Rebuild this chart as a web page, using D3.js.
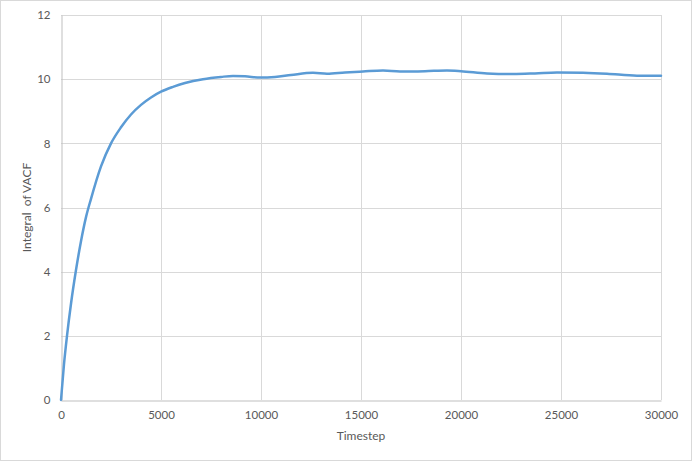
<!DOCTYPE html>
<html><head><meta charset="utf-8">
<script src="https://cdn.jsdelivr.net/npm/d3@7"></script>
<style>html,body{margin:0;padding:0;background:#fff}svg{display:block}</style>
</head><body>
<script>
const timesteps = [0,150,300,500,750,1000,1250,1500,2000,2500,3000,3500,4000,4500,5000,5600,6200,7100,8000,8600,9200,9950,10700,11500,12600,13300,14200,15100,16100,16950,18200,19300,20000,21300,22600,23700,24800,26100,27300,28800,30000];
const vacfIntegral = [0,1.12,2.0,3.0,4.05,4.95,5.7,6.27,7.28,8.0,8.5,8.9,9.2,9.43,9.61,9.76,9.88,10.0,10.07,10.10,10.09,10.05,10.07,10.13,10.2,10.17,10.21,10.24,10.27,10.24,10.25,10.27,10.25,10.18,10.16,10.18,10.21,10.20,10.17,10.11,10.11];
const xTicks = [0,5000,10000,15000,20000,25000,30000];
const yTicks = [0,2,4,6,8,10,12];
const xTitle = "Timestep";
const yTitle = "Integral  of VACF";

const W = 692, H = 461;
const m = {left:61, right:31, top:15, bottom:61};
const svg = d3.select("body").append("svg").attr("width",W).attr("height",H);
svg.append("rect").attr("x",0.5).attr("y",0.5).attr("width",W-1).attr("height",H-1)
  .attr("fill","#fff").attr("stroke","#d9d9d9");

const x = d3.scaleLinear().domain([0,30000]).range([m.left, W-m.right]);
const y = d3.scaleLinear().domain([0,12]).range([H-m.bottom, m.top]);
const font = "Lato, 'Open Sans', sans-serif";

// gridlines
svg.append("g").selectAll("line.h").data(yTicks.filter(d=>d>0)).join("line")
  .attr("x1",x(0)).attr("x2",x(30000)).attr("y1",d=>Math.round(y(d))+0.5).attr("y2",d=>Math.round(y(d))+0.5)
  .attr("stroke","#d9d9d9");
svg.append("g").selectAll("line.v").data(xTicks.filter(d=>d>0)).join("line")
  .attr("y1",y(0)).attr("y2",y(12)).attr("x1",d=>Math.round(x(d))+0.5).attr("x2",d=>Math.round(x(d))+0.5)
  .attr("stroke","#d9d9d9");

// axes
const xAxis = d3.axisBottom(x).tickValues(xTicks).tickSize(0).tickPadding(10).tickFormat(d3.format("d"));
const yAxis = d3.axisLeft(y).tickValues(yTicks).tickSize(0).tickPadding(11).tickFormat(d3.format("d"));
const gx = svg.append("g").attr("transform",`translate(0,${Math.round(y(0))+0.5})`).call(xAxis);
const gy = svg.append("g").attr("transform",`translate(${Math.round(x(0))+0.5},0)`).call(yAxis);
[gx,gy].forEach(g=>{
  g.select(".domain").attr("stroke","#bfbfbf");
  g.selectAll("text").attr("fill","#595959").style("font-family",font).style("font-size","11.5px");
});

// line
const line = d3.line().x((d,i)=>x(timesteps[i])).y(d=>y(d)).curve(d3.curveMonotoneX);
svg.append("path").datum(vacfIntegral).attr("d",line).attr("fill","none")
  .attr("stroke","#5b9bd5").attr("stroke-width",2.5).attr("stroke-linejoin","round").attr("stroke-linecap","round");

// titles
svg.append("text").attr("x",(x(0)+x(30000))/2).attr("y",440).attr("text-anchor","middle")
  .attr("fill","#595959").style("font-family",font).style("font-size","12px").text(xTitle);
svg.append("text").attr("transform",`translate(31,${(y(0)+y(12))/2}) rotate(-90)`).attr("text-anchor","middle")
  .attr("fill","#595959").style("font-family",font).style("font-size","12px").style("white-space","pre").text(yTitle);
</script>
</body></html>
